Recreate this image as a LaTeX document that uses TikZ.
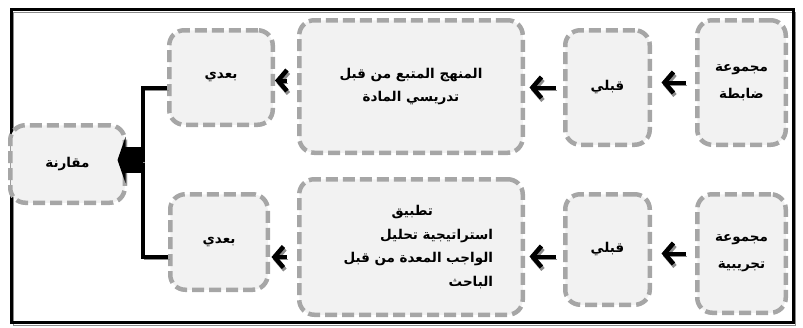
\documentclass[tikz,border=0pt]{standalone}
\usepackage{fontspec}
\newfontfamily\arabicfont[Script=Arabic]{DejaVu Sans}
\TeXXeTstate=1
\usetikzlibrary{arrows.meta,calc}
\newcommand{\artxt}[1]{\beginR #1\endR}
\definecolor{boxfill}{HTML}{F2F2F2}
\definecolor{boxline}{HTML}{A6A6A6}
\definecolor{shadowc}{HTML}{8C8C8C}
\tikzset{
  gbox/.style={draw=boxline, fill=boxfill, line width=4.5pt,
    dash pattern=on 12pt off 5pt, rounded corners=15pt,
    font=\arabicfont\bfseries\fontsize{13.5}{23.5}\selectfont,
    align=center, inner sep=2pt},
  widel/.style={font=\arabicfont\bfseries\fontsize{13.5}{27}\selectfont},
  shad/.style={preaction={draw=shadowc, transform canvas={shift={(1.5pt,-2.5pt)}}}},
  arr/.style={draw=black, line width=4pt,
    -{Straight Barb[length=9pt,width=21pt,line width=4.5pt]}, shad},
  brk/.style={draw=black, line width=4pt, shad},
}
\begin{document}
\begin{tikzpicture}[x=1pt,y=-1pt]
\useasboundingbox (0,0) rectangle (803,327);
% frame
\draw[line width=3pt, shad] (11.5,9.5) rectangle (793.5,322.5);
\coordinate (jn) at (143,160);
% boxes
\node[gbox, widel, minimum width=88.5pt, minimum height=124.5pt] (g1) at (741.5,82.5) {\artxt{مجموعة}\\\artxt{ضابطة}};
\node[gbox, minimum width=84.5pt, minimum height=114.5pt] (q1) at (607.5,87.5) {\artxt{قبلي}};
\node[gbox, minimum width=223.5pt, minimum height=132.5pt] (m1) at (411,86.5) {\artxt{المنهج المتبع من قبل}\\\artxt{تدريسي المادة}};
\node[gbox, minimum width=103.5pt, minimum height=94.5pt] (b1) at (221,77.5) {\artxt{بعدي}};
\node[gbox, widel, minimum width=88.5pt, minimum height=118.5pt] (g2) at (741.5,253.5) {\artxt{مجموعة}\\\artxt{تجريبية}};
\node[gbox, minimum width=84.5pt, minimum height=110.5pt] (q2) at (607.5,249.5) {\artxt{قبلي}};
\node[gbox, minimum width=223.5pt, minimum height=135.5pt, text width=164pt, align=right] (m2) at (411,247)
  {\artxt{تطبيق}\hspace*{60pt}\mbox{}\\\artxt{استراتيجية تحليل}\\\artxt{الواجب المعدة من قبل}\\\artxt{الباحث}};
\node[gbox, minimum width=97.5pt, minimum height=95.5pt] (b2) at (219,242) {\artxt{بعدي}};
\node[gbox, minimum width=114.5pt, minimum height=77.5pt] (cmp) at (67.5,164) {\artxt{مقارنة}};
% bracket
\coordinate (bt) at ([yshift=-10.5pt]b1.west);
\coordinate (bb) at ([yshift=-15pt]b2.west);
\draw[brk] (bt) -- (bt -| jn) -- (bb -| jn) -- (bb);
% arrows
\coordinate (a3) at ([yshift=6pt]m1.west);
\coordinate (a5) at ([yshift=-7pt]q2.west);
\coordinate (a6) at ([yshift=-10pt]m2.west);
\draw[arr, shorten <=9.5pt, shorten >=9.5pt] (g1.west) -- (g1.west -| q1.east);
\draw[arr, shorten <=7.5pt, shorten >=4.5pt] (q1.west) -- (q1.west -| m1.east);
\draw[arr, shorten <=10.5pt, shorten >=0pt] (a3) -- (a3 -| b1.east);
\draw[arr, shorten <=9.5pt, shorten >=9.5pt] (g2.west) -- (g2.west -| q2.east);
\draw[arr, shorten <=7.5pt, shorten >=4.5pt] (a5) -- (a5 -| m2.east);
\draw[arr, shorten <=10.5pt, shorten >=1.5pt] (a6) -- (a6 -| b2.east);
% block arrow to comparison
\draw[line width=26pt, draw=black, shorten >=-9.5pt,
  -{Triangle[length=8pt,width=46pt]}, shad] (jn) -- (jn -| cmp.east);
\end{tikzpicture}
\end{document}
